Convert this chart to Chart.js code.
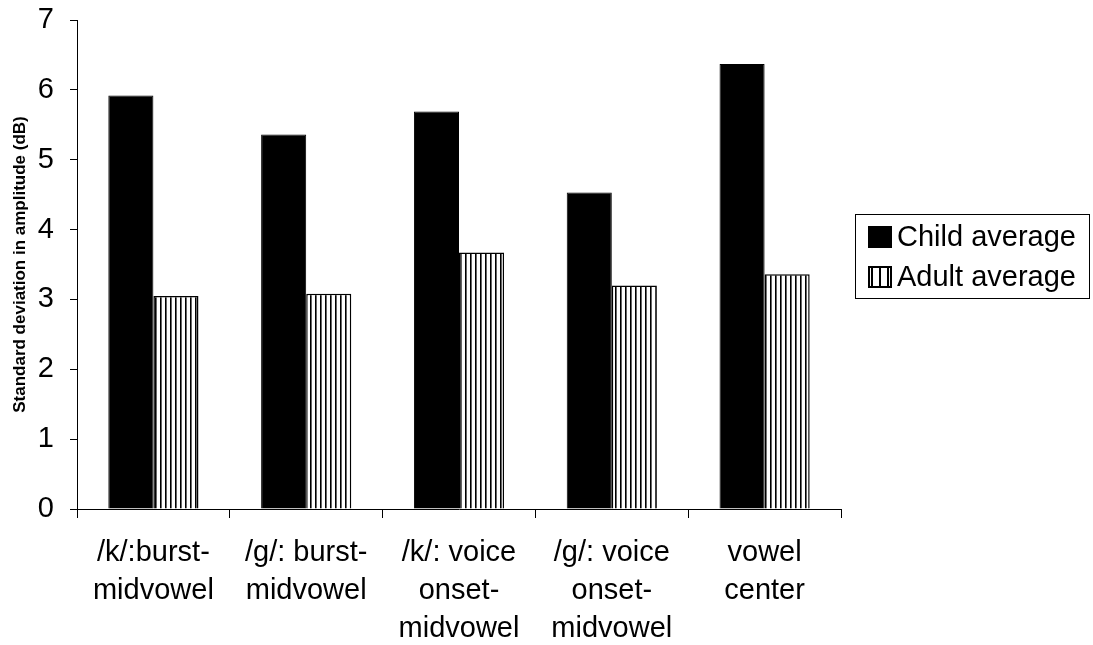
<!DOCTYPE html>
<html>
<head>
<meta charset="utf-8">
<title>Standard deviation in amplitude</title>
<script src="https://cdn.jsdelivr.net/npm/chart.js@4.4.1/dist/chart.umd.min.js"></script>
<style>
  html, body { margin: 0; padding: 0; background: #fff; }
  #wrap { width: 1093px; height: 645px; }
</style>
</head>
<body>
<div id="wrap"><canvas id="sdChart"></canvas></div>
<script>
// values
const categories = [
  ['/k/:burst-', 'midvowel'],
  ['/g/: burst-', 'midvowel'],
  ['/k/: voice', 'onset-', 'midvowel'],
  ['/g/: voice', 'onset-', 'midvowel'],
  ['vowel', 'center']
];
const childAverage = [5.92, 5.36, 5.69, 4.53, 6.37];
const adultAverage = [3.05, 3.08, 3.67, 3.20, 3.36];
const yTicks = [0, 1, 2, 3, 4, 5, 6, 7];

const font = "'Liberation Sans', Arial, sans-serif";

// vertical stripe fill for the adult bars
function stripePattern(step) {
  const c = document.createElement('canvas');
  c.width = step;
  c.height = 10;
  const g = c.getContext('2d');
  g.fillStyle = '#fff';
  g.fillRect(0, 0, step, 10);
  g.fillStyle = '#000';
  g.fillRect(0, 0, 1, 10);
  g.fillStyle = '#666';
  g.fillRect(1, 0, 1, 10);
  return g.createPattern(c, 'repeat');
}

// legend drawn by hand, boxed like the original
const boxedLegend = {
  id: 'boxedLegend',
  afterDraw(chart) {
    const ctx = chart.ctx;
    const sets = chart.data.datasets;
    const left = 855, top = 214, w = 234, h = 84;
    ctx.save();
    ctx.strokeStyle = '#000';
    ctx.lineWidth = 1;
    ctx.strokeRect(left + 0.5, top + 0.5, w, h);
    ctx.font = '29px ' + font;
    ctx.textBaseline = 'middle';
    sets.forEach((ds, i) => {
      const cy = top + 23 + i * 40;
      const sx = 868, sy = cy - 11;
      if (i === 0) {
        ctx.fillStyle = '#000';
        ctx.fillRect(sx, sy, 24, 22);
      } else {
        ctx.fillStyle = '#fff';
        ctx.fillRect(sx, sy, 24, 22);
        ctx.fillStyle = '#000';
        [0, 8, 16].forEach(dx => ctx.fillRect(sx + dx + 3, sy, 2, 22));
        ctx.lineWidth = 2;
        ctx.strokeRect(sx + 1, sy + 1, 22, 20);
      }
      ctx.fillStyle = '#000';
      ctx.fillText(ds.label, 897, cy + 1);
    });
    ctx.restore();
  }
};

new Chart(document.getElementById('sdChart'), {
  type: 'bar',
  data: {
    labels: categories,
    datasets: [{
      label: 'Child average',
      data: childAverage,
      backgroundColor: '#000',
      borderColor: '#000',
      borderWidth: 1
    }, {
      label: 'Adult average',
      data: adultAverage,
      backgroundColor: stripePattern(5),
      borderColor: '#000',
      borderWidth: 1.5
    }]
  },
  options: {
    responsive: true,
    maintainAspectRatio: false,
    animation: false,
    layout: { padding: { top: 20, right: 252, left: 10, bottom: 0 } },
    datasets: {
      bar: { categoryPercentage: 0.59, barPercentage: 1.0 }
    },
    plugins: {
      tooltip: { enabled: false },
      legend: { display: false }
    },
    scales: {
      x: {
        afterFit(axis) { axis.height = 136; },
        border: { color: '#000', width: 1 },
        grid: {
          offset: true,
          drawOnChartArea: false,
          color: '#000',
          tickLength: 9
        },
        ticks: {
          color: '#000',
          font: { family: font, size: 29, lineHeight: 1.31 },
          padding: 16,
          maxRotation: 0,
          autoSkip: false
        }
      },
      y: {
        min: 0,
        max: 7,
        afterBuildTicks(axis) {
          axis.ticks = yTicks.map(v => ({ value: v }));
        },
        afterFit(axis) {
          axis.width = 67;
          axis.paddingTop = 0;
          axis.paddingBottom = 0;
        },
        border: { color: '#000', width: 1 },
        grid: {
          drawOnChartArea: false,
          color: '#000',
          tickLength: 7
        },
        ticks: {
          color: '#000',
          font: { family: font, size: 29 },
          padding: 16
        },
        title: {
          display: true,
          text: 'Standard deviation in amplitude (dB)',
          color: '#000',
          font: { family: font, size: 17, weight: 'bold' },
          padding: { top: 0, bottom: 0 }
        }
      }
    }
  },
  plugins: [boxedLegend]
});
</script>
</body>
</html>
